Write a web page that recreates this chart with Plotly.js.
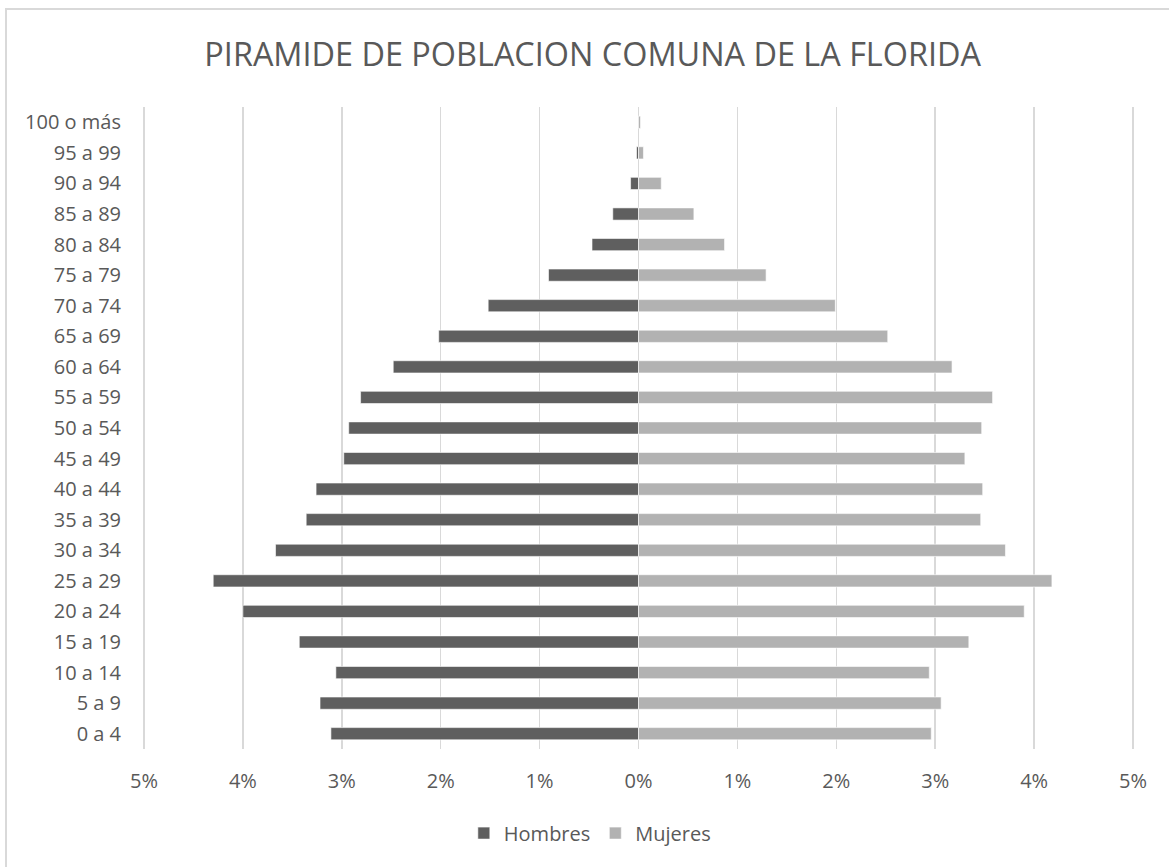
<!DOCTYPE html>
<html>
<head>
<meta charset="utf-8">
<script src="https://cdn.plot.ly/plotly-3.0.1.min.js"></script>
<style>
  html, body { margin: 0; padding: 0; background: #ffffff; }
  #wrap { position: relative; width: 1169px; height: 867px; overflow: hidden; }
  #chart { position: absolute; left: 0; top: 0; width: 1169px; height: 867px; }
  #frame { position: absolute; left: 5px; top: 8px; width: 1200px; height: 900px;
           border-left: 2px solid #d9d9d9; border-top: 2px solid #d9d9d9; pointer-events: none; }
</style>
</head>
<body>
<div id="wrap">
  <div id="chart"></div>
  <div id="frame"></div>
</div>
<script>
// Age groups, bottom to top
const ageGroups = ["0 a 4","5 a 9","10 a 14","15 a 19","20 a 24","25 a 29","30 a 34","35 a 39",
  "40 a 44","45 a 49","50 a 54","55 a 59","60 a 64","65 a 69","70 a 74","75 a 79",
  "80 a 84","85 a 89","90 a 94","95 a 99","100 o más"];

// Percent of population
const hombres = [3.11, 3.22, 3.06, 3.43, 4.00, 4.30, 3.67, 3.36, 3.26, 2.98, 2.93, 2.81,
  2.48, 2.02, 1.52, 0.91, 0.47, 0.26, 0.08, 0.02, 0.005];
const mujeres = [2.96, 3.06, 2.94, 3.34, 3.90, 4.18, 3.71, 3.46, 3.48, 3.30, 3.47, 3.58,
  3.17, 2.52, 1.99, 1.29, 0.87, 0.56, 0.23, 0.05, 0.02];

const tickVals = [-5, -4, -3, -2, -1, 0, 1, 2, 3, 4, 5];
const tickText = ["5%","4%","3%","2%","1%","0%","1%","2%","3%","4%","5%"];

const font = "Open Sans, Noto Sans, sans-serif";
const textColor = "#595959";

const traces = [
  {
    type: "bar", orientation: "h", name: "Hombres",
    y: ageGroups, x: hombres.map(v => -v),
    marker: { color: "#5f5f5f", line: { color: "#ffffff", width: 0.6 } },
    hoverinfo: "skip"
  },
  {
    type: "bar", orientation: "h", name: "Mujeres",
    y: ageGroups, x: mujeres,
    marker: { color: "#b2b2b2", line: { color: "#ffffff", width: 0.6 } },
    hoverinfo: "skip"
  }
];

const layout = {
  width: 1169, height: 867,
  paper_bgcolor: "rgba(0,0,0,0)", plot_bgcolor: "#ffffff",
  margin: { l: 142, r: 34, t: 107, b: 118 },
  barmode: "relative",
  bargap: 0.6,
  title: {
    text: "PIRAMIDE DE POBLACION COMUNA DE LA FLORIDA",
    font: { family: font, size: 32.4, color: textColor },
    x: 0.507, xanchor: "center", y: 0.937, yanchor: "middle"
  },
  xaxis: {
    range: [-5.02, 5.02], tickvals: tickVals, ticktext: tickText,
    showgrid: true, gridcolor: "#d9d9d9", gridwidth: 1.5,
    zeroline: false, showline: false,
    ticks: "outside", ticklen: 14, tickcolor: "rgba(0,0,0,0)",
    tickfont: { family: font, size: 20, color: textColor },
    fixedrange: true
  },
  yaxis: {
    type: "category", categoryorder: "array", categoryarray: ageGroups,
    showgrid: false, zeroline: false, showline: false,
    ticks: "outside", ticklen: 16, tickcolor: "rgba(0,0,0,0)",
    tickfont: { family: font, size: 20, color: textColor },
    fixedrange: true
  },
  legend: {
    orientation: "h", x: 0.451, xanchor: "center", y: -0.131, yanchor: "middle",
    font: { family: font, size: 20, color: textColor },
    traceorder: "normal"
  },
  showlegend: true
};

Plotly.newPlot("chart", traces, layout, { displayModeBar: false, staticPlot: true });
</script>
</body>
</html>
